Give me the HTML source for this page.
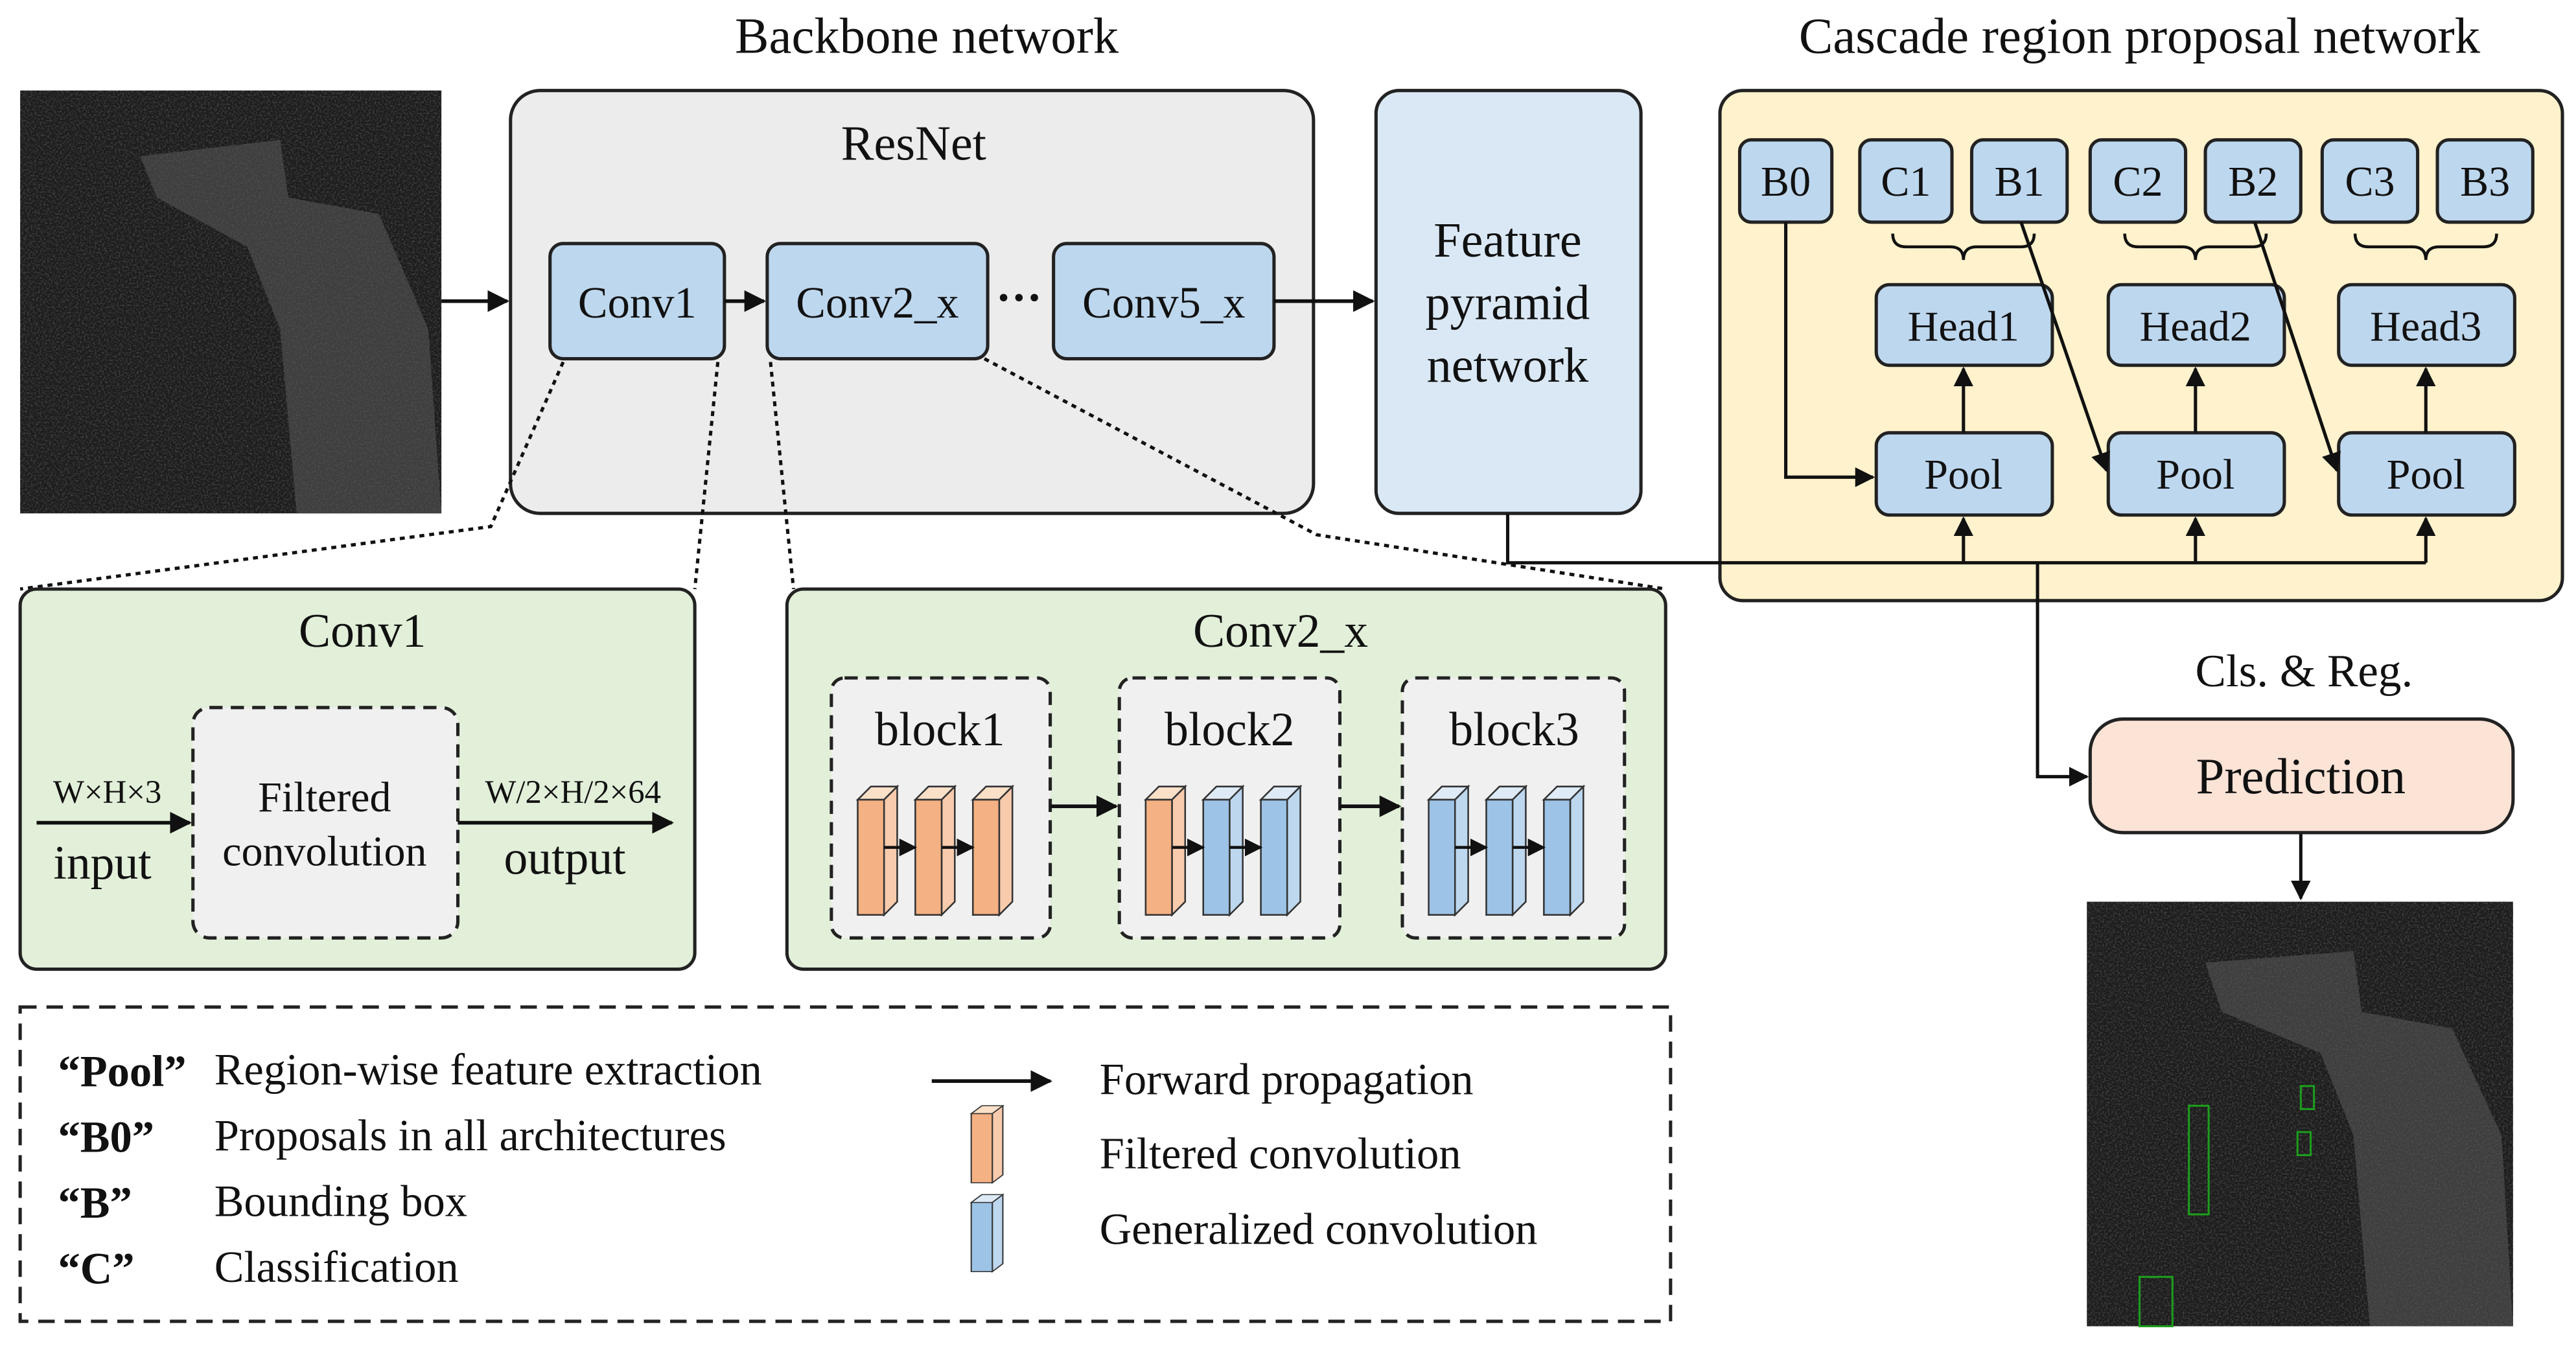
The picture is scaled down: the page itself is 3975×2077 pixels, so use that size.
<!DOCTYPE html>
<html><head><meta charset="utf-8"><style>html,body{margin:0;padding:0;background:#fff}svg{display:block}text{font-family:"Liberation Serif",serif;fill:#111}</style></head><body>
<svg width="3975" height="2077" viewBox="0 0 1565 818" xmlns="http://www.w3.org/2000/svg">
<defs>
<marker id="a" viewBox="0 0 10 10" refX="9" refY="5" markerWidth="6" markerHeight="6" orient="auto-start-reverse"><path d="M0,0 L10,5 L0,10 z" fill="#111"/></marker>
<filter id="n" x="0" y="0" width="1" height="1"><feTurbulence type="fractalNoise" baseFrequency="0.9" numOctaves="2" seed="3"/><feColorMatrix values="0 0 0 0 0.5 0 0 0 0 0.5 0 0 0 0 0.5 0 0 0 1.2 -0.5"/></filter>
<g id="so"><polygon points="0,8 8,0 24,0 16,8" fill="#fbe0c8" stroke="#333" stroke-width="1"/><polygon points="16,8 24,0 24,70 16,78" fill="#f8cbad" stroke="#333" stroke-width="1"/><rect x="0" y="8" width="16" height="70" fill="#f4b183" stroke="#333" stroke-width="1"/></g>
<g id="sb"><polygon points="0,8 8,0 24,0 16,8" fill="#deebf7" stroke="#333" stroke-width="1"/><polygon points="16,8 24,0 24,70 16,78" fill="#bdd7ee" stroke="#333" stroke-width="1"/><rect x="0" y="8" width="16" height="70" fill="#9dc3e6" stroke="#333" stroke-width="1"/></g>
</defs>
<g font-size="31" text-anchor="middle">
<text x="563" y="32">Backbone network</text>
<text x="1300" y="32">Cascade region proposal network</text>
</g>
<!-- SAR images -->
<rect x="12" y="55" width="256" height="257" fill="#1c1c1c"/>
<rect x="12" y="55" width="256" height="257" filter="url(#n)" opacity="0.5"/>
<path d="M85,95 L170,85 L175,120 L230,130 L260,200 L268,312 L180,312 L170,200 L150,150 L95,120 Z" fill="#555" opacity="0.6"/>
<rect x="1268" y="548" width="259" height="258" fill="#1c1c1c"/>
<rect x="1268" y="548" width="259" height="258" filter="url(#n)" opacity="0.5"/>
<path d="M1340,585 L1430,578 L1435,615 L1490,625 L1520,690 L1527,806 L1440,806 L1430,690 L1410,640 L1350,615 Z" fill="#555" opacity="0.6"/>
<g fill="none" stroke="#1c9e1c" stroke-width="1.2"><rect x="1330" y="672" width="12" height="66"/><rect x="1398" y="660" width="8" height="14"/><rect x="1396" y="688" width="8" height="14"/><rect x="1300" y="776" width="20" height="30"/></g>
<!-- ResNet -->
<rect x="310" y="55" width="488" height="257" rx="18" fill="#ececec" stroke="#222" stroke-width="2"/>
<text x="555" y="97" font-size="30" text-anchor="middle">ResNet</text>
<g fill="#bdd7ee" stroke="#222" stroke-width="2">
<rect x="334" y="148" width="106" height="70" rx="8"/><rect x="466" y="148" width="134" height="70" rx="8"/><rect x="640" y="148" width="134" height="70" rx="8"/>
</g>
<g font-size="27" text-anchor="middle"><text x="387" y="193">Conv1</text><text x="533" y="193">Conv2_x</text><text x="707" y="193">Conv5_x</text></g>
<text x="619" y="190" font-size="28" text-anchor="middle" font-weight="bold">···</text>
<rect x="836" y="55" width="161" height="257" rx="14" fill="#dae8f5" stroke="#222" stroke-width="2"/>
<g font-size="30" text-anchor="middle"><text x="916" y="156">Feature</text><text x="916" y="194">pyramid</text><text x="916" y="232">network</text></g>
<g stroke="#111" stroke-width="2.2" fill="none" marker-end="url(#a)">
<line x1="268" y1="183" x2="308" y2="183"/><line x1="440" y1="183" x2="464" y2="183"/><line x1="774" y1="183" x2="834" y2="183"/>
</g>
<!-- Cascade -->
<rect x="1045" y="55" width="512" height="310" rx="14" fill="#fff2cc" stroke="#222" stroke-width="2"/>
<g fill="#bdd7ee" stroke="#222" stroke-width="2">
<rect x="1057" y="85" width="56" height="50" rx="7"/><rect x="1130" y="85" width="56" height="50" rx="7"/><rect x="1198" y="85" width="58" height="50" rx="7"/>
<rect x="1270" y="85" width="58" height="50" rx="7"/><rect x="1340" y="85" width="58" height="50" rx="7"/><rect x="1411" y="85" width="58" height="50" rx="7"/><rect x="1481" y="85" width="58" height="50" rx="7"/>
<rect x="1140" y="173" width="107" height="49" rx="8"/><rect x="1281" y="173" width="107" height="49" rx="8"/><rect x="1421" y="173" width="107" height="49" rx="8"/>
<rect x="1140" y="263" width="107" height="50" rx="8"/><rect x="1281" y="263" width="107" height="50" rx="8"/><rect x="1421" y="263" width="107" height="50" rx="8"/>
</g>
<g font-size="26" text-anchor="middle">
<text x="1085" y="119">B0</text><text x="1158" y="119">C1</text><text x="1227" y="119">B1</text><text x="1299" y="119">C2</text><text x="1369" y="119">B2</text><text x="1440" y="119">C3</text><text x="1510" y="119">B3</text>
<text x="1193" y="207">Head1</text><text x="1334" y="207">Head2</text><text x="1474" y="207">Head3</text>
<text x="1193" y="297">Pool</text><text x="1334" y="297">Pool</text><text x="1474" y="297">Pool</text>
</g>
<g stroke="#111" stroke-width="1.8" fill="none">
<path d="M1150,142 q0,8 8,8 h27 q8,0 8,8 q0,-8 8,-8 h27 q8,0 8,-8"/>
<path d="M1291,142 q0,8 8,8 h27 q8,0 8,8 q0,-8 8,-8 h27 q8,0 8,-8"/>
<path d="M1431,142 q0,8 8,8 h27 q8,0 8,8 q0,-8 8,-8 h27 q8,0 8,-8"/>
</g>
<g stroke="#111" stroke-width="2" fill="none" marker-end="url(#a)">
<line x1="1193" y1="263" x2="1193" y2="224"/><line x1="1334" y1="263" x2="1334" y2="224"/><line x1="1474" y1="263" x2="1474" y2="224"/>
<polyline points="1085,135 1085,290 1138,290"/>
<line x1="1228" y1="135" x2="1280" y2="286"/><line x1="1370" y1="135" x2="1420" y2="286"/>
<line x1="1193" y1="342" x2="1193" y2="315"/><line x1="1334" y1="342" x2="1334" y2="315"/><line x1="1474" y1="342" x2="1474" y2="315"/>
<polyline points="1238,342 1238,472 1268,472"/>
<line x1="1398" y1="506" x2="1398" y2="546"/>
</g>
<polyline points="916,312 916,342 1474,342" stroke="#111" stroke-width="2" fill="none"/>
<text x="1400" y="417" font-size="28" text-anchor="middle">Cls. &amp; Reg.</text>
<rect x="1270" y="437" width="257" height="69" rx="20" fill="#fbe3d6" stroke="#222" stroke-width="2"/>
<text x="1398" y="482" font-size="31" text-anchor="middle">Prediction</text>
<!-- dotted -->
<g stroke="#111" stroke-width="2" stroke-dasharray="3,3" fill="none">
<polyline points="342,220 298,320 12,358"/><line x1="436" y1="220" x2="422" y2="358"/><line x1="468" y1="220" x2="482" y2="358"/><polyline points="598,218 800,325 1012,358"/>
</g>
<!-- Conv1 detail -->
<rect x="12" y="358" width="410" height="231" rx="10" fill="#e2efd9" stroke="#222" stroke-width="2"/>
<text x="220" y="393" font-size="29" text-anchor="middle">Conv1</text>
<rect x="117" y="430" width="161" height="140" rx="10" fill="#f0f0f0" stroke="#222" stroke-width="2" stroke-dasharray="8,5"/>
<g font-size="26" text-anchor="middle"><text x="197" y="493">Filtered</text><text x="197" y="526">convolution</text></g>
<g stroke="#111" stroke-width="2.2" marker-end="url(#a)"><line x1="22" y1="500" x2="115" y2="500"/><line x1="278" y1="500" x2="408" y2="500"/></g>
<g text-anchor="middle"><text x="65" y="488" font-size="20">W×H×3</text><text x="62" y="534" font-size="29">input</text><text x="348" y="488" font-size="20">W/2×H/2×64</text><text x="343" y="531" font-size="29">output</text></g>
<!-- Conv2_x detail -->
<rect x="478" y="358" width="534" height="231" rx="10" fill="#e2efd9" stroke="#222" stroke-width="2"/>
<text x="778" y="393" font-size="29" text-anchor="middle">Conv2_x</text>
<g fill="#f0f0f0" stroke="#222" stroke-width="2" stroke-dasharray="8,5">
<rect x="505" y="412" width="133" height="158" rx="8"/><rect x="680" y="412" width="134" height="158" rx="8"/><rect x="852" y="412" width="135" height="158" rx="8"/>
</g>
<g font-size="29" text-anchor="middle"><text x="571" y="453">block1</text><text x="747" y="453">block2</text><text x="920" y="453">block3</text></g>
<use href="#so" x="521" y="478"/><use href="#so" x="556" y="478"/><use href="#so" x="591" y="478"/>
<use href="#so" x="696" y="478"/><use href="#sb" x="731" y="478"/><use href="#sb" x="766" y="478"/>
<use href="#sb" x="868" y="478"/><use href="#sb" x="903" y="478"/><use href="#sb" x="938" y="478"/>
<g stroke="#111" stroke-width="1.8" marker-end="url(#a)">
<line x1="537" y1="515" x2="556" y2="515"/><line x1="572" y1="515" x2="591" y2="515"/>
<line x1="712" y1="515" x2="731" y2="515"/><line x1="747" y1="515" x2="766" y2="515"/>
<line x1="884" y1="515" x2="903" y2="515"/><line x1="919" y1="515" x2="938" y2="515"/>
<line x1="638" y1="490" x2="678" y2="490" stroke-width="2.2"/><line x1="814" y1="490" x2="850" y2="490" stroke-width="2.2"/>
</g>
<!-- legend -->
<rect x="12" y="612" width="1003" height="191" fill="none" stroke="#222" stroke-width="2" stroke-dasharray="10,6"/>
<g font-size="27">
<text x="35" y="660" font-weight="bold">“Pool”</text><text x="130" y="659">Region-wise feature extraction</text>
<text x="35" y="700" font-weight="bold">“B0”</text><text x="130" y="699">Proposals in all architectures</text>
<text x="35" y="740" font-weight="bold">“B”</text><text x="130" y="739">Bounding box</text>
<text x="35" y="780" font-weight="bold">“C”</text><text x="130" y="779">Classification</text>
<text x="668" y="665">Forward propagation</text><text x="668" y="710">Filtered convolution</text><text x="668" y="756">Generalized convolution</text>
</g>
<line x1="566" y1="657" x2="638" y2="657" stroke="#111" stroke-width="2.2" marker-end="url(#a)"/>
<g transform="translate(590,672) scale(0.8,0.6)"><use href="#so"/></g>
<g transform="translate(590,726) scale(0.8,0.6)"><use href="#sb"/></g>
</svg>
</body></html>
